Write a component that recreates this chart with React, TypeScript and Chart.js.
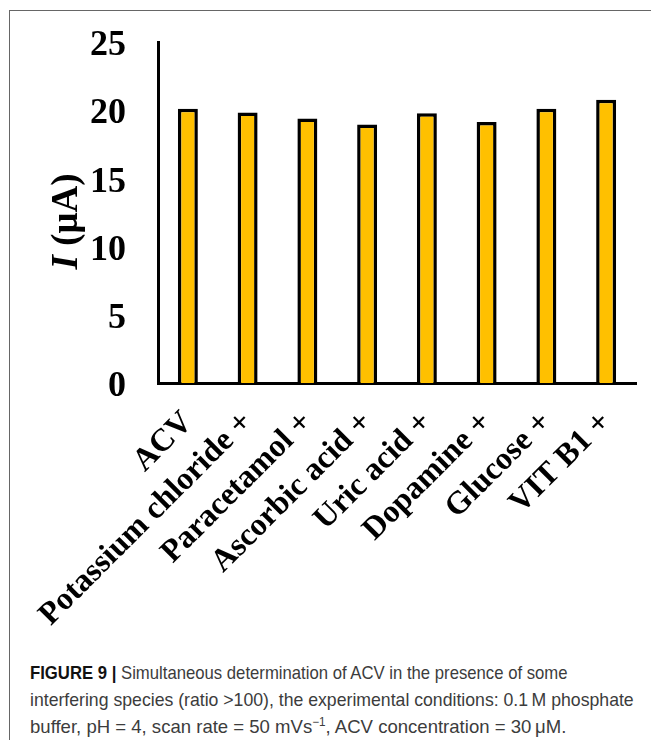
import React, { useEffect, useLayoutEffect, useRef } from "react";
import { Chart, registerables } from "chart.js";

Chart.register(...registerables);

const categories = [
  "ACV",
  "Potassium chloride +",
  "Paracetamol +",
  "Ascorbic acid +",
  "Uric acid +",
  "Dopamine +",
  "Glucose +",
  "VIT B1 +",
];
const currents = [20.1, 19.83, 19.39, 18.95, 19.78, 19.14, 20.1, 20.76];
const yTicks = [0, 5, 10, 15, 20, 25];
const yTitleItalic = "I";
const yTitleRest = " (μA)";

const captionLines = [
  { bold: "FIGURE 9 | ", text: "Simultaneous determination of ACV in the presence of some" },
  { bold: "", text: "interfering species (ratio >100), the experimental conditions: 0.1\u2009M phosphate" },
  { bold: "", text: "buffer, pH = 4, scan rate = 50 mVs", sup: "−1", after: ", ACV concentration = 30\u2009μM." },
];
const captionWidths = [538, 604, 536];

const SERIF = '"Liberation Serif", "Times New Roman", serif';

const yTitlePlugin = {
  id: "yTitlePlugin",
  afterDraw(chart: any) {
    const ctx = chart.ctx;
    const area = chart.chartArea;
    const cy = (area.top + area.bottom) / 2 + 9;
    ctx.save();
    ctx.translate(77, cy);
    ctx.rotate(-Math.PI / 2);
    ctx.fillStyle = "#000";
    ctx.textBaseline = "alphabetic";
    const fI = `italic bold 37px ${SERIF}`;
    const fR = `bold 37px ${SERIF}`;
    ctx.font = fI;
    const w1 = ctx.measureText(yTitleItalic).width;
    ctx.font = fR;
    const w2 = ctx.measureText(yTitleRest).width;
    const start = -(w1 + w2) / 2;
    ctx.textAlign = "left";
    ctx.font = fI;
    ctx.fillText(yTitleItalic, start, 0);
    ctx.font = fR;
    ctx.fillText(yTitleRest, start + w1, 0);
    ctx.restore();
  },
};

function BarChart() {
  const ref = useRef<HTMLCanvasElement | null>(null);
  useEffect(() => {
    if (!ref.current) return;
    const chart = new Chart(ref.current, {
      type: "bar",
      data: {
        labels: categories,
        datasets: [
          {
            data: currents,
            backgroundColor: "#FFC000",
            borderColor: "#000000",
            borderWidth: 3.5,
            categoryPercentage: 1,
            barPercentage: 0.334,
          },
        ],
      },
      options: {
        responsive: false,
        animation: false,
        layout: { padding: { left: 0, top: 42, right: 15, bottom: 0 } },
        plugins: {
          legend: { display: false },
          tooltip: { enabled: false },
          title: { display: false },
        },
        scales: {
          x: {
            grid: { display: false, drawTicks: false },
            border: { display: true, color: "#000", width: 3 },
            ticks: {
              autoSkip: false,
              minRotation: 45,
              maxRotation: 45,
              padding: 21,
              color: "#000",
              font: { family: SERIF, weight: "bold", size: 32 },
            },
            afterFit: (scale: any) => {
              scale.height = 650 - 383;
              scale.paddingLeft = 0;
              scale.paddingRight = 0;
            },
          },
          y: {
            min: 0,
            max: 25,
            afterBuildTicks: (scale: any) => {
              scale.ticks = yTicks.map((v) => ({ value: v }));
            },
            grid: { display: false, drawTicks: false },
            border: { display: true, color: "#000", width: 3 },
            ticks: {
              padding: 32,
              color: "#000",
              callback: (v: any) => ["", String(v)],
              font: { family: SERIF, weight: "bold", size: 36, lineHeight: "8px" },
            },
            afterFit: (scale: any) => {
              scale.width = 158;
              scale.paddingTop = 0;
              scale.paddingBottom = 0;
            },
          },
        },
      },
      plugins: [yTitlePlugin],
    });
    return () => chart.destroy();
  }, []);
  return (
    <canvas
      ref={ref}
      width={651}
      height={650}
      style={{ position: "absolute", left: 0, top: 0, width: 651, height: 650 }}
    />
  );
}

function CaptionLine({ line, target }: { line: any; target: number }) {
  const ref = useRef<HTMLDivElement | null>(null);
  useLayoutEffect(() => {
    const el = ref.current;
    if (!el) return;
    el.style.transform = "none";
    const w = el.scrollWidth;
    if (w > 0) el.style.transform = `scaleX(${target / w})`;
  }, [target]);
  return (
    <div
      ref={ref}
      style={{ display: "inline-block", transformOrigin: "0 0", whiteSpace: "nowrap" }}
    >
      {line.bold ? <span style={{ fontWeight: "bold", color: "#111" }}>{line.bold}</span> : null}
      {line.text}
      {line.sup ? <sup style={{ fontSize: 12, lineHeight: 0 }}>{line.sup}</sup> : null}
      {line.after || null}
    </div>
  );
}

export default function App() {
  return (
    <div
      style={{
        position: "fixed",
        left: 0,
        top: 0,
        width: 651,
        height: 740,
        overflow: "hidden",
        background: "#fff",
      }}
    >
      <div
        style={{
          position: "absolute",
          left: 9,
          top: 10,
          width: 720,
          height: 800,
          border: "1px solid #666",
          boxSizing: "border-box",
        }}
      />
      <BarChart />
      <div
        style={{
          position: "absolute",
          left: 30,
          top: 659,
          width: 700,
          fontFamily: '"Liberation Sans", Arial, sans-serif',
          fontSize: 19,
          lineHeight: "27px",
          color: "#3c3c3c",
        }}
      >
        {captionLines.map((l, i) => (
          <div key={i} style={{ height: 27 }}>
            <CaptionLine line={l} target={captionWidths[i]} />
          </div>
        ))}
      </div>
    </div>
  );
}
